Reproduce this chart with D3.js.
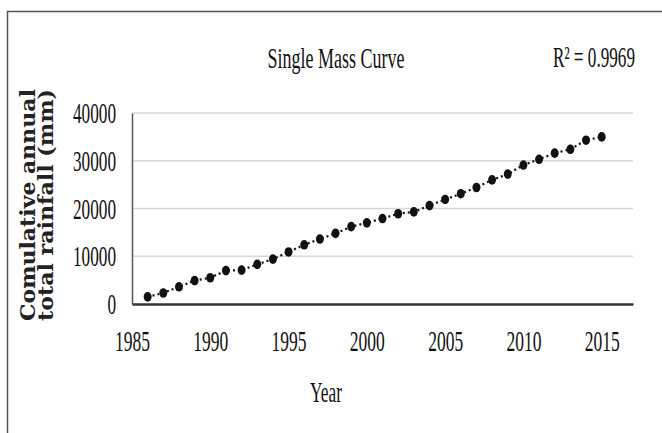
<!DOCTYPE html>
<html>
<head>
<meta charset="utf-8">
<script src="https://cdn.jsdelivr.net/npm/d3@7"></script>
<style>
  body { margin: 0; background: #fff; }
  svg { display: block; }
</style>
</head>
<body>
<svg width="662" height="433"></svg>
<script>
var years = [1986, 1987, 1988, 1989, 1990, 1991, 1992, 1993, 1994, 1995,
             1996, 1997, 1998, 1999, 2000, 2001, 2002, 2003, 2004, 2005,
             2006, 2007, 2008, 2009, 2010, 2011, 2012, 2013, 2014, 2015];
var rainfall = [1500, 2300, 3600, 4900, 5500, 7000, 7100, 8300, 9400, 10900,
                12400, 13600, 14800, 16200, 17000, 17900, 18900, 19300, 20600, 21900,
                23100, 24400, 26000, 27200, 29100, 30300, 31600, 32400, 34300, 35000];
var xTicks = [1985, 1990, 1995, 2000, 2005, 2010, 2015];
var yTicks = [0, 10000, 20000, 30000, 40000];
var chartTitle = "Single Mass Curve";
var r2Label = "R² = 0.9969";
var xTitle = "Year";
var yTitle = ["Comulative annual", "total rainfall (mm)"];

var data = years.map((d, i) => ({ year: d, value: rainfall[i] }));

var svg = d3.select("svg");

var x = d3.scaleLinear()
  .domain([1985, 2017])
  .range([132, 633]);

var y = d3.scaleLinear()
  .domain([0, 40000])
  .range([304, 113]);

var serif = "'Liberation Serif', 'Times New Roman', serif";

// squeeze a text horizontally to a target width (the source image is narrow)
function squeeze(sel, px, py, w) {
  var nat = sel.node().getComputedTextLength();
  sel.attr("x", 0).attr("y", 0)
    .attr("transform", "translate(" + px + "," + py + ") scale(" + (w / nat) + ",1)");
}

// outer frame (left and top edges only visible)
svg.append("path")
  .attr("d", "M7.5,433V11.5H662")
  .attr("fill", "none")
  .attr("stroke", "#555")
  .attr("stroke-width", 1.5);

// gridlines
svg.append("g")
  .selectAll("line")
  .data(yTicks.filter(d => d > 0))
  .enter()
  .append("line")
  .attr("x1", x(1985))
  .attr("x2", x(2017))
  .attr("y1", d => y(d))
  .attr("y2", d => y(d))
  .attr("stroke", "#d6d6d6")
  .attr("stroke-width", 1.5);

// y axis
var yAxis = svg.append("g")
  .attr("transform", "translate(" + x(1985) + ",0)")
  .call(d3.axisLeft(y).tickValues(yTicks).tickSize(0).tickPadding(16).tickFormat(d3.format("d")));
yAxis.select(".domain").attr("stroke", "#555").attr("stroke-width", 1.5);
yAxis.selectAll("text")
  .attr("font-family", serif)
  .attr("font-size", 30)
  .attr("fill", "#111")
  .attr("textLength", d => String(d).length * 8.6)
  .attr("lengthAdjust", "spacingAndGlyphs");

// x axis
var xAxis = svg.append("g")
  .attr("transform", "translate(0," + y(0) + ")")
  .call(d3.axisBottom(x).tickValues(xTicks).tickSize(0).tickPadding(26).tickFormat(d3.format("d")));
xAxis.select(".domain").attr("stroke", "#333").attr("stroke-width", 2.5);
xAxis.selectAll("text")
  .attr("font-family", serif)
  .attr("font-size", 30)
  .attr("fill", "#111")
  .attr("textLength", 35)
  .attr("lengthAdjust", "spacingAndGlyphs");

// dotted series line
var line = d3.line()
  .x(d => x(d.year))
  .y(d => y(d.value));

svg.append("path")
  .datum(data)
  .attr("fill", "none")
  .attr("stroke", "#111")
  .attr("stroke-width", 2.2)
  .attr("stroke-dasharray", "2,3")
  .attr("d", line);

// markers
svg.append("g")
  .selectAll("ellipse")
  .data(data)
  .enter()
  .append("ellipse")
  .attr("cx", d => x(d.year))
  .attr("cy", d => y(d.value))
  .attr("rx", 4)
  .attr("ry", 4.8)
  .attr("fill", "#111");

// titles
var title = svg.append("text")
  .attr("text-anchor", "middle")
  .attr("font-family", serif)
  .attr("font-size", 30)
  .attr("fill", "#111")
  .text(chartTitle);
squeeze(title, 336, 68, 137);

var r2 = svg.append("text")
  .attr("font-family", serif)
  .attr("font-size", 30)
  .attr("fill", "#111")
  .text(r2Label);
squeeze(r2, 553, 67, 82);

var xLab = svg.append("text")
  .attr("text-anchor", "middle")
  .attr("font-family", serif)
  .attr("font-size", 30)
  .attr("fill", "#111")
  .text(xTitle);
squeeze(xLab, 326, 402, 32);

svg.append("g")
  .attr("transform", "translate(0,205) rotate(-90)")
  .selectAll("text")
  .data(yTitle)
  .enter()
  .append("text")
  .attr("x", 0)
  .attr("y", (d, i) => 35 + i * 18)
  .attr("text-anchor", "middle")
  .attr("font-family", "'DejaVu Serif', serif")
  .attr("font-weight", "bold")
  .attr("font-size", 20)
  .attr("fill", "#222")
  .attr("textLength", 232)
  .attr("lengthAdjust", "spacingAndGlyphs")
  .text(d => d);
</script>
</body>
</html>
